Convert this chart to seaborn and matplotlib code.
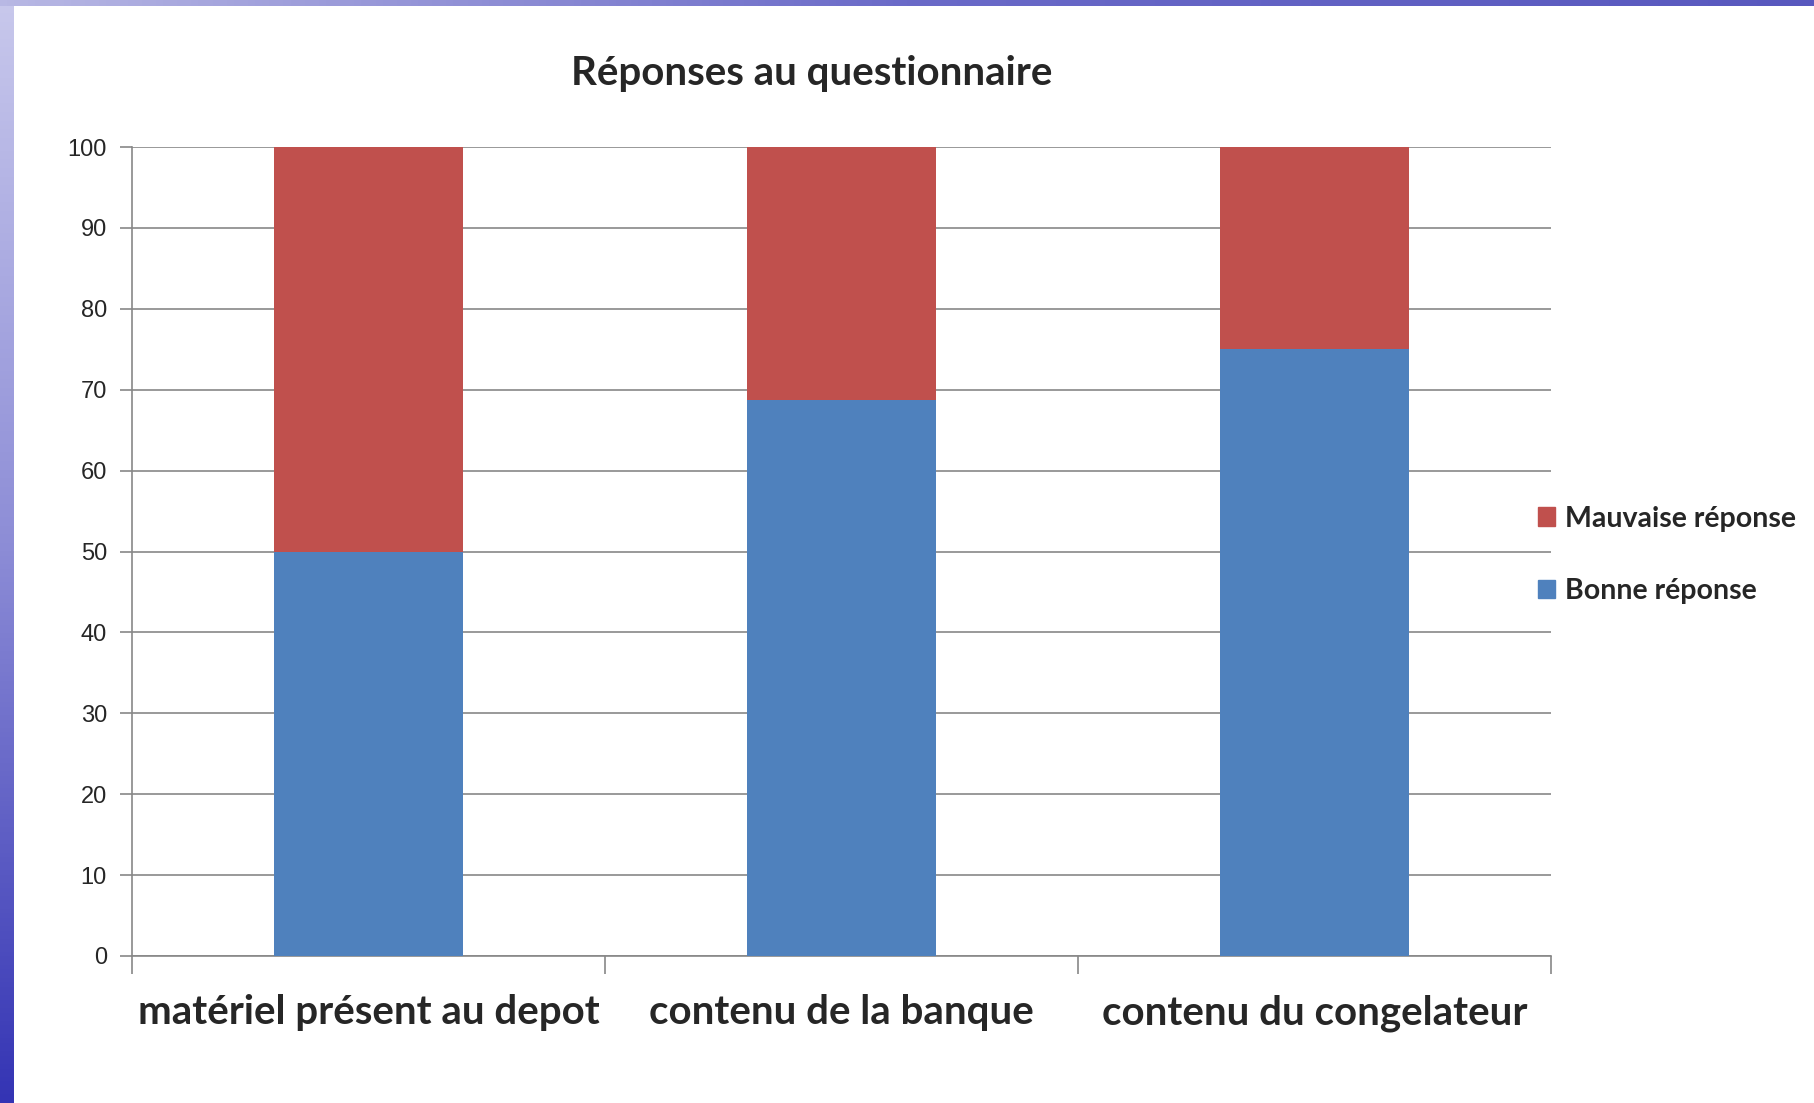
import numpy as np
import pandas as pd
import seaborn as sns
import matplotlib.pyplot as plt
from matplotlib.patches import Patch

categories = ["matériel présent au depot", "contenu de la banque", "contenu du congelateur"]
bonne = [50, 68.75, 75]
mauvaise = [50, 31.25, 25]
yticks = [0, 10, 20, 30, 40, 50, 60, 70, 80, 90, 100]

blue = "#4F81BD"
red = "#C0504D"
grid_col = "#878787"

df = pd.DataFrame({"cat": categories, "bonne": bonne, "mauvaise": mauvaise})
df["total"] = df["bonne"] + df["mauvaise"]

sns.set_style("white")
plt.rcParams["font.family"] = ["Liberation Sans", "DejaVu Sans"]

fig = plt.figure(figsize=(18.14, 11.03), dpi=100)

# slide background strips
grad = np.linspace(0, 1, 256).reshape(-1, 1)
bg = fig.add_axes([0, 0, 14 / 1814, 1])
bg.imshow(grad, aspect="auto", cmap=sns.blend_palette(["#C8C8EC", "#8C8CD6", "#3434B4"], as_cmap=True))
bg.axis("off")
top = fig.add_axes([0, 1 - 6 / 1103, 1, 6 / 1103])
top.imshow(grad.T, aspect="auto", cmap=sns.blend_palette(["#B8B8E4", "#6A6AC8", "#5858BE"], as_cmap=True))
top.axis("off")

ax = fig.add_axes([132 / 1814, 1 - 956 / 1103, (1551 - 132) / 1814, (956 - 147) / 1103])
sns.barplot(data=df, x="cat", y="total", color=red, width=0.4, saturation=1, linewidth=0, ax=ax, zorder=3)
sns.barplot(data=df, x="cat", y="bonne", color=blue, width=0.4, saturation=1, linewidth=0, ax=ax, zorder=3)

ax.set_ylim(0, 100)
ax.set_xlim(-0.5, 2.5)
ax.set_yticks(yticks)
ax.set_yticklabels([str(t) for t in yticks], fontsize=17)
ax.yaxis.grid(True, color=grid_col, linewidth=1.2, zorder=0)
ax.set_axisbelow(True)
for s in ["top", "right"]:
    ax.spines[s].set_visible(False)
ax.spines["left"].set_color(grid_col)
ax.spines["bottom"].set_color(grid_col)
ax.spines["left"].set_linewidth(1.2)
ax.spines["bottom"].set_linewidth(1.2)
ax.tick_params(axis="y", left=True, length=9, color=grid_col, width=1.2, pad=9)

# category boundary ticks on x
ax.set_xticks([-0.5, 0.5, 1.5, 2.5], minor=True)
ax.tick_params(axis="x", which="minor", bottom=True, length=13, color=grid_col, width=1.2)
ax.tick_params(axis="x", which="major", bottom=False, pad=24)
ax.set_xticklabels(categories, fontsize=29, fontweight="bold", family=["Lato", "DejaVu Sans"])
ax.set_xlabel("")
ax.set_ylabel("")
ax.spines["left"].set_bounds(0, 100)

fig.text(812 / 1814, 1 - 74 / 1103, "Réponses au questionnaire", ha="center", va="center",
         fontsize=29, fontweight="bold", family=["Lato", "DejaVu Sans"])

handles = [Patch(color=red, label="Mauvaise réponse"), Patch(color=blue, label="Bonne réponse")]
leg = fig.legend(handles=handles, loc="center left", bbox_to_anchor=(1512 / 1814, 1 - 555 / 1103),
                 frameon=False, prop={"family": ["Lato", "DejaVu Sans"], "weight": "bold", "size": 20.5},
                 handlelength=0.6, handleheight=0.6, handletextpad=0.35, labelspacing=1.65)

fig.savefig("out.png", dpi=100)
